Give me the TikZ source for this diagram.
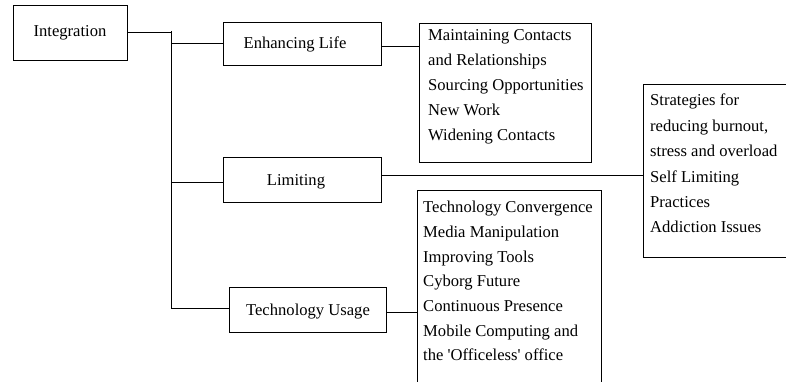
\documentclass[tikz,border=0pt]{standalone}
\usepackage{fontspec}
\setmainfont{Liberation Serif}
\begin{document}
\begin{tikzpicture}[x=1pt,y=-1pt,
  box/.style={draw=black,line width=0.8pt,rectangle,inner sep=0pt,outer sep=0pt},
  openbox/.style={rectangle,inner sep=0pt,outer sep=0pt},
  lbl/.style={font=\fontsize{16.6}{20}\selectfont,inner sep=0pt},
  lst/.style={font=\fontsize{16.6}{#1}\selectfont,align=left,inner sep=0pt,anchor=north west},
  conn/.style={draw=black,line width=0.8pt}]
\useasboundingbox (0,0) rectangle (786,382);
% boxes
\node[box,minimum width=114pt,minimum height=55pt] (int) at (70,32.5) {};
\node[box,minimum width=158pt,minimum height=43pt] (enh) at (302,43.5) {};
\node[box,minimum width=158pt,minimum height=45pt] (lim) at (302,179.5) {};
\node[box,minimum width=157pt,minimum height=45pt] (tech) at (307.5,309.5) {};
\node[box,minimum width=172pt,minimum height=139pt] (maint) at (505,92.5) {};
\node[openbox,minimum width=146pt,minimum height=173pt] (strat) at (716,170.5) {};
\node[openbox,minimum width=184pt,minimum height=196pt] (tconv) at (509,288) {};
\draw[conn] (strat.north east) -- (strat.north west) -- (strat.south west) -- (strat.south east);
\draw[conn] (tconv.south west) -- (tconv.north west) -- (tconv.north east) -- (tconv.south east);
% labels
\node[lbl] (intT) at (70,32.5) {Integration};
\node[lbl] (enhT) at (295,44) {Enhancing Life};
\node[lbl] (limT) at (296,181.5) {Limiting};
\node[lbl] (techT) at (308,311.5) {Technology Usage};
\node[lst=25] (maintT) at (428,29) {Maintaining Contacts\\and Relationships\\Sourcing Opportunities\\New Work\\Widening Contacts};
\node[lst=25.4] (stratT) at (650,94) {Strategies for\\reducing burnout,\\stress and overload\\Self Limiting\\Practices\\Addiction Issues};
\node[lst=24.7] (tconvT) at (423,201) {Technology Convergence\\Media Manipulation\\Improving Tools\\Cyborg Future\\Continuous Presence\\Mobile Computing and\\the \textquotesingle Officeless\textquotesingle{} office};
% connectors
\coordinate (jt) at (171,31);
\coordinate (jb) at (171,308);
\draw[conn] (int.east) -- (int.east -| jt);
\draw[conn] (jt) -- (jb) -- (jb -| tech.west);
\draw[conn] (enh.west -| jt) -- (enh.west);
\coordinate (l1) at ([yshift=-2.5pt]lim.west);
\draw[conn] (l1 -| jt) -- (l1);
\coordinate (e1) at ([yshift=-2.5pt]enh.east);
\draw[conn] (e1) -- (e1 -| maint.west);
\coordinate (l2) at ([yshift=4.5pt]lim.east);
\draw[conn] (l2) -- (l2 -| strat.west);
\coordinate (t2) at ([yshift=-2.5pt]tech.east);
\draw[conn] (t2) -- (t2 -| tconv.west);
\end{tikzpicture}
\end{document}
